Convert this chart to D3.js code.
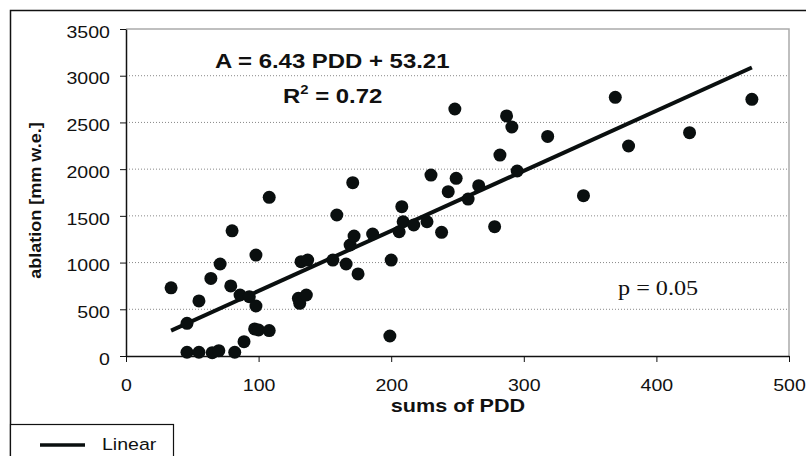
<!DOCTYPE html>
<html>
<head>
<meta charset="utf-8">
<script src="https://cdn.jsdelivr.net/npm/d3@7"></script>
<style>
  body { margin: 0; background: #fff; }
  svg { display: block; font-family: 'Liberation Sans', Arial, sans-serif; }
</style>
</head>
<body>
<div id="svg-container"></div>
<script>
(function () {
  'use strict'

  // sums of positive degree days
  var pdd = [
    34, 46, 46, 55, 55, 64, 65, 70, 71, 79, 80, 82, 86, 89, 93, 97, 98, 98, 100,
    108, 108, 130, 131, 132, 136, 137, 156, 159, 166, 169, 171, 172, 175, 186,
    199, 200, 206, 208, 209, 217, 227, 230, 238, 243, 248, 249, 258, 266, 278,
    282, 287, 291, 295, 318, 345, 369, 379, 425, 472
  ]
  // ablation [mm w.e.]
  var ablation = [
    730, 350, 40, 590, 40, 830, 36, 57, 985, 750, 1340, 40, 653, 153, 635, 290,
    1080, 535, 278, 1698, 272, 617, 564, 1010, 653, 1027, 1027, 1509, 985, 1188,
    1855, 1284, 878, 1306, 214, 1027, 1330, 1598, 1437, 1402, 1437, 1937, 1324,
    1759, 2644, 1902, 1680, 1823, 1384, 2151, 2570, 2451, 1980, 2350, 1716, 2769,
    2248, 2390, 2747
  ]
  var slope = 6.43
  var intercept = 53.21
  var xTicks = [0, 100, 200, 300, 400, 500]
  var yTicks = [0, 500, 1000, 1500, 2000, 2500, 3000, 3500]

  var dimensions = { w: 806, h: 456 }
  var offset = { left: 126, top: 29, right: 17, bottom: 100 }
  var stretch = 'scale(1.15,1)'

  var innerW = dimensions.w - offset.left - offset.right
  var innerH = dimensions.h - offset.top - offset.bottom

  var svg = d3.select('#svg-container').append('svg')
    .attr('width', dimensions.w)
    .attr('height', dimensions.h)

  // outer frame
  svg.append('rect')
    .attr('x', 10.5).attr('y', 10.5)
    .attr('width', 900).attr('height', 900)
    .attr('fill', 'none')
    .attr('stroke', '#111')
    .attr('stroke-width', 1.5)

  var scaleX = d3.scaleLinear().domain([0, 500]).range([0, innerW])
  var scaleY = d3.scaleLinear().domain([0, 3500]).range([innerH, 0])

  var chart = svg.append('g')
    .attr('transform', 'translate(' + offset.left + ',' + offset.top + ')')

  // grid lines
  chart.selectAll('.grid').data(yTicks.slice(1, -1)).enter().append('line')
    .attr('class', 'grid')
    .attr('x1', 0).attr('x2', innerW)
    .attr('y1', function (d) { return scaleY(d) })
    .attr('y2', function (d) { return scaleY(d) })
    .attr('stroke', '#888')
    .attr('stroke-width', 1)
    .attr('stroke-dasharray', '1,2')

  // plot area border (top, right)
  chart.append('path')
    .attr('d', 'M0,0H' + innerW + 'V' + innerH)
    .attr('fill', 'none')
    .attr('stroke', '#aaa')
    .attr('stroke-width', 1.5)

  // axes
  var bottomAxis = d3.axisBottom(scaleX).tickValues(xTicks)
    .tickFormat(d3.format('d'))
    .tickSizeInner(6).tickSizeOuter(0).tickPadding(17)
  var leftAxis = d3.axisLeft(scaleY).tickValues(yTicks)
    .tickFormat(d3.format('d'))
    .tickSizeInner(6).tickSizeOuter(0).tickPadding(8)

  var gx = chart.append('g')
    .attr('transform', 'translate(0,' + innerH + ')')
    .call(bottomAxis)
  var gy = chart.append('g').call(leftAxis)

  ;[gx, gy].forEach(function (g) {
    g.select('.domain').attr('stroke', '#111').attr('stroke-width', 1.5)
    g.selectAll('.tick line').attr('stroke', '#111').attr('stroke-width', 1)
    g.selectAll('.tick text')
      .attr('font-family', 'Liberation Sans, Arial, sans-serif')
      .attr('font-size', 17)
      .attr('fill', '#111')
      .attr('transform', stretch)
  })
  gy.selectAll('.tick text').attr('dy', '0.48em')

  // axis titles
  svg.append('text')
    .attr('transform', 'translate(41,' + (offset.top + innerH / 2 + 8) + ') rotate(-90) scale(1.06,1)')
    .attr('text-anchor', 'middle')
    .attr('font-weight', 'bold')
    .attr('font-size', 17)
    .attr('fill', '#111')
    .text('ablation [mm w.e.]')

  svg.append('text')
    .attr('transform', 'translate(458,412) scale(1.2,1)')
    .attr('text-anchor', 'middle')
    .attr('font-weight', 'bold')
    .attr('font-size', 18)
    .attr('fill', '#111')
    .text('sums of PDD')

  // regression line
  var ext = d3.extent(pdd)
  var line = d3.line()
    .x(function (d) { return scaleX(d) })
    .y(function (d) { return scaleY(slope * d + intercept) })
  chart.append('path').datum(ext)
    .attr('d', line)
    .attr('fill', 'none')
    .attr('stroke', '#0a0f0f')
    .attr('stroke-width', 4)

  // points
  chart.selectAll('.point').data(pdd).enter().append('circle')
    .attr('class', 'point')
    .attr('cx', function (d) { return scaleX(d) })
    .attr('cy', function (d, i) { return scaleY(ablation[i]) })
    .attr('r', 6.5)
    .attr('fill', '#0a0f0f')

  // equation
  svg.append('text')
    .attr('transform', 'translate(215,68) scale(1.14,1)')
    .attr('font-weight', 'bold')
    .attr('font-size', 21)
    .attr('fill', '#111')
    .text('A = ' + slope + ' PDD + ' + intercept)

  var r2 = svg.append('text')
    .attr('transform', 'translate(283,103) scale(1.14,1)')
    .attr('font-weight', 'bold')
    .attr('font-size', 21)
    .attr('fill', '#111')
  r2.append('tspan').text('R')
  r2.append('tspan').attr('font-size', 13).attr('dy', -9).text('2')
  r2.append('tspan').attr('dy', 9).text(' = 0.72')

  svg.append('text')
    .attr('transform', 'translate(618,295) scale(1.1,1)')
    .attr('font-family', 'Liberation Serif, Times New Roman, serif')
    .attr('font-size', 22)
    .attr('fill', '#111')
    .text('p = 0.05')

  // legend
  var legend = svg.append('g')
  legend.append('rect')
    .attr('x', 10.5).attr('y', 424.5)
    .attr('width', 163).attr('height', 60)
    .attr('fill', '#fff')
    .attr('stroke', '#111')
    .attr('stroke-width', 1.2)
  legend.append('line')
    .attr('x1', 40).attr('x2', 85)
    .attr('y1', 445).attr('y2', 445)
    .attr('stroke', '#0a0f0f')
    .attr('stroke-width', 3.5)
  legend.append('text')
    .attr('transform', 'translate(102,450) ' + stretch)
    .attr('font-size', 17)
    .attr('fill', '#111')
    .text('Linear')
}())
</script>
</body>
</html>
